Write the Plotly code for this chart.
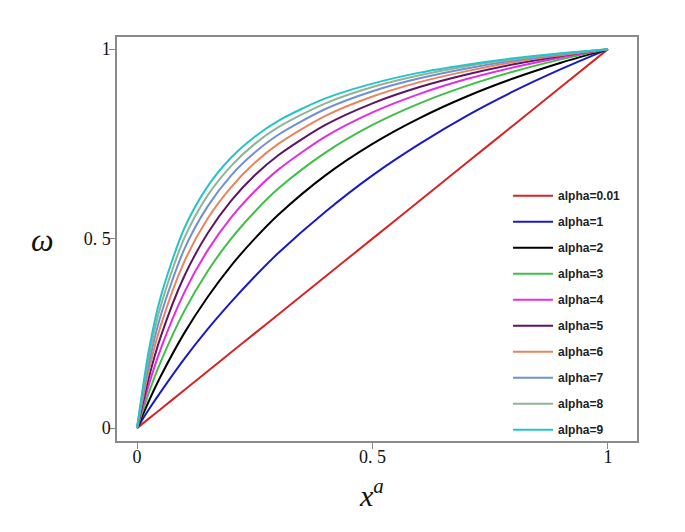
import plotly.graph_objects as go

x_vals = [0, 0.025, 0.05, 0.1, 0.15, 0.2, 0.25, 0.3, 0.4, 0.5, 0.6, 0.7, 0.8, 0.9, 1.0]

labels = ["alpha=0.01", "alpha=1", "alpha=2", "alpha=3", "alpha=4",
          "alpha=5", "alpha=6", "alpha=7", "alpha=8", "alpha=9"]

a001 = [0, 0.025, 0.05, 0.10, 0.15, 0.20, 0.25, 0.30, 0.40, 0.50, 0.60, 0.70, 0.80, 0.90, 1.0]
a1 = [0, 0.049, 0.095, 0.182, 0.261, 0.333, 0.400, 0.462, 0.571, 0.667, 0.750, 0.824, 0.889, 0.947, 1.0]
a2 = [0, 0.071, 0.136, 0.250, 0.346, 0.429, 0.500, 0.563, 0.667, 0.750, 0.818, 0.875, 0.923, 0.964, 1.0]
a3 = [0, 0.093, 0.174, 0.308, 0.414, 0.500, 0.571, 0.632, 0.727, 0.800, 0.857, 0.903, 0.941, 0.973, 1.0]
a4 = [0, 0.114, 0.208, 0.357, 0.469, 0.556, 0.625, 0.682, 0.769, 0.833, 0.882, 0.921, 0.952, 0.978, 1.0]
a5 = [0, 0.133, 0.240, 0.400, 0.514, 0.600, 0.667, 0.720, 0.800, 0.857, 0.900, 0.933, 0.960, 0.982, 1.0]
a6 = [0, 0.152, 0.269, 0.438, 0.553, 0.636, 0.700, 0.750, 0.824, 0.875, 0.913, 0.942, 0.966, 0.984, 1.0]
a7 = [0, 0.170, 0.296, 0.471, 0.585, 0.667, 0.727, 0.774, 0.842, 0.889, 0.923, 0.949, 0.970, 0.986, 1.0]
a8 = [0, 0.188, 0.321, 0.500, 0.614, 0.692, 0.750, 0.794, 0.857, 0.900, 0.931, 0.955, 0.973, 0.988, 1.0]
a9 = [0, 0.204, 0.345, 0.526, 0.638, 0.714, 0.769, 0.811, 0.870, 0.909, 0.938, 0.959, 0.976, 0.989, 1.0]

series = [a001, a1, a2, a3, a4, a5, a6, a7, a8, a9]
colors = ["#d42424", "#1a1ac4", "#000000", "#3fbf45", "#e22ee0",
          "#5e1566", "#e8845e", "#6e90d8", "#8fb592", "#27c3c9"]

tick_vals = [0, 0.5, 1]
tick_text = ["0", "0. 5", "1"]

fig = go.Figure()
for i, (lab, ys, col) in enumerate(zip(labels, series, colors)):
    fig.add_trace(go.Scatter(
        x=x_vals, y=ys, mode="lines", name=f"<b>{lab}</b>",
        line=dict(color=col, width=2, shape="spline", smoothing=0.8),
        legendgroup=f"g{i}",
    ))

axis_common = dict(
    showgrid=False, zeroline=False, showline=True, mirror=True,
    linecolor="#8a8a8a", linewidth=1.5,
    ticks="outside", ticklen=6, tickcolor="#8a8a8a", tickwidth=1,
    tickvals=tick_vals, ticktext=tick_text,
    tickfont=dict(family="Liberation Serif, Times New Roman, serif", size=18, color="#111"),
)

fig.update_xaxes(range=[-0.0425, 1.0616], ticklabelstandoff=-7, **axis_common)
fig.update_yaxes(range=[-0.034, 1.032], ticklabelstandoff=-5, **axis_common)

fig.update_layout(
    width=685, height=532,
    margin=dict(l=109, r=56, t=29, b=99),
    paper_bgcolor="white", plot_bgcolor="white",
    showlegend=True,
    legend=dict(
        x=0.752, y=0.643, xanchor="left", yanchor="top",
        bgcolor="rgba(0,0,0,0)", borderwidth=0,
        font=dict(family="Liberation Sans Narrow, Arial Narrow, Liberation Sans, sans-serif",
                  size=12, color="#222"),
        tracegroupgap=7, itemwidth=40,
    ),
    annotations=[
        dict(text="<i>ω</i>", x=-0.144, y=0.4975, xref="paper", yref="paper",
             xanchor="center", yanchor="middle", showarrow=False,
             font=dict(family="Liberation Serif, serif", size=32, color="#111")),
        dict(text="<i>x<sup>a</sup></i>", x=0.49, y=-0.128, xref="paper", yref="paper",
             xanchor="center", yanchor="middle", showarrow=False,
             font=dict(family="Liberation Serif, serif", size=30, color="#111")),
    ],
)

fig.write_html("out.html")
